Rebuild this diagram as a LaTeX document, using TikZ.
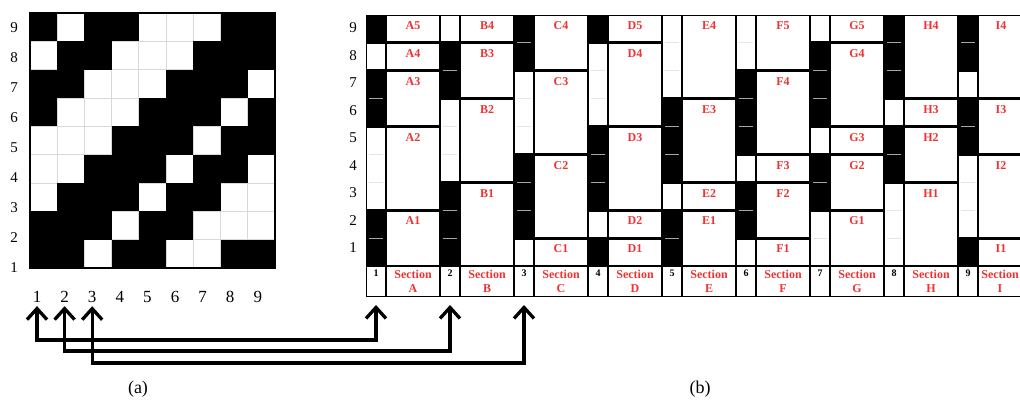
\documentclass[tikz,border=0pt]{standalone}
\usepackage{fontspec}
\setmainfont{Liberation Serif}
\usetikzlibrary{arrows.meta}
\definecolor{labred}{RGB}{240,50,50}
\tikzset{
  cellbox/.style={draw=black,line width=1.4pt},
  sep black/.style={draw=gray!70,line width=0.8pt},
  sep white/.style={draw=gray!20,line width=0.8pt},
  gridline/.style={draw=gray!30,line width=0.8pt},
  seclab/.style={text=labred,font=\bfseries\fontsize{12}{13.5}\selectfont,inner sep=1pt},
  numlab/.style={font=\bfseries\fontsize{10}{12}\selectfont,inner sep=1pt},
  rowlab/.style={font=\fontsize{15}{15}\selectfont},
  collab/.style={font=\fontsize{17}{17}\selectfont},
  caption/.style={font=\fontsize{18}{18}\selectfont},
  link/.style={line width=3.3pt,{Straight Barb[length=11pt,width=20pt]}-{Straight Barb[length=11pt,width=20pt]}},
}
\begin{document}
\begin{tikzpicture}[x=1pt,y=-1pt]
\clip (0,0) rectangle (1020,401);
\fill[white] (0,0) rectangle (1020,401);

% (a) the weave draft
\foreach \i in {1,...,8} {
  \draw[gridline] (30+27.22*\i,13) -- (30+27.22*\i,268);
  \draw[gridline] (30,13+28.33*\i) -- (275,13+28.33*\i);
}
\foreach \r/\pat in {9/{1,0,1,1,0,0,0,1,1}, 8/{0,1,1,0,0,0,1,1,1},
                     7/{1,1,0,0,0,1,1,1,0}, 6/{1,0,0,0,1,1,1,0,1},
                     5/{0,0,0,1,1,1,0,1,1}, 4/{0,0,1,1,1,0,1,1,0},
                     3/{0,1,1,1,0,1,1,0,0}, 2/{1,1,1,0,1,1,0,0,0},
                     1/{1,1,0,1,1,0,0,1,1}} {
  \foreach \v [count=\c] in \pat {
    \ifnum\v=1 \fill (30+27.22*\c-27.22,13+28.33*9-28.33*\r) rectangle ++(27.22,28.33); \fi
  }
}
\draw[line width=1.6pt] (30,13) rectangle (275,268);

\foreach \r in {1,...,9} {
  \node[rowlab] (rl\r) at (14,28+29.9*9-29.9*\r) {\r};
  \node[collab] (cl\r) at (37+27.6*\r-27.6,297) {\r};
}
\node[caption] (capa) at (138,389) {(a)};

% (b) threads and sections
\foreach \c/\t/\b/\f in {1/9/9/black, 1/8/8/white, 1/7/6/black, 1/5/3/white, 1/2/1/black,
                         2/9/9/white, 2/8/7/black, 2/6/4/white, 2/3/1/black,
                         3/9/8/black, 3/7/5/white, 3/4/2/black, 3/1/1/white,
                         4/9/9/black, 4/8/6/white, 4/5/3/black, 4/2/2/white, 4/1/1/black,
                         5/9/7/white, 5/6/4/black, 5/3/3/white, 5/2/1/black,
                         6/9/8/white, 6/7/5/black, 6/4/4/white, 6/3/2/black, 6/1/1/white,
                         7/9/9/white, 7/8/6/black, 7/5/5/white, 7/4/3/black, 7/2/1/white,
                         8/9/7/black, 8/6/6/white, 8/5/4/black, 8/3/1/white,
                         9/9/8/black, 9/7/7/white, 9/6/5/black, 9/4/2/white, 9/1/1/black} {
  \pgfmathsetmacro\xa{366+74*(\c-1)}
  \pgfmathsetmacro\ya{15+27.9*(9-\t)}
  \pgfmathsetmacro\yb{15+27.9*(10-\b)}
  \draw[cellbox,fill=\f] (\xa+0.7,\ya+0.7) rectangle (\xa+19.3,\yb-0.7);
  \ifnum\t>\b
    \foreach \r in {\b,...,\t} {
      \ifnum\r<\t \draw[sep \f] (\xa+3,15+27.9*9-27.9*\r) -- (\xa+17,15+27.9*9-27.9*\r); \fi
    }
  \fi
}
\foreach \c/\t/\b/\lab in {1/9/9/A5, 1/8/8/A4, 1/7/6/A3, 1/5/3/A2, 1/2/1/A1,
                           2/9/9/B4, 2/8/7/B3, 2/6/4/B2, 2/3/1/B1,
                           3/9/8/C4, 3/7/5/C3, 3/4/2/C2, 3/1/1/C1,
                           4/9/9/D5, 4/8/6/D4, 4/5/3/D3, 4/2/2/D2, 4/1/1/D1,
                           5/9/7/E4, 5/6/4/E3, 5/3/3/E2, 5/2/1/E1,
                           6/9/8/F5, 6/7/5/F4, 6/4/4/F3, 6/3/2/F2, 6/1/1/F1,
                           7/9/9/G5, 7/8/6/G4, 7/5/5/G3, 7/4/3/G2, 7/2/1/G1,
                           8/9/7/H4, 8/6/6/H3, 8/5/4/H2, 8/3/1/H1,
                           9/9/7/I4, 9/6/5/I3, 9/4/2/I2, 9/1/1/I1} {
  \pgfmathsetmacro\xa{366+74*(\c-1)}
  \pgfmathsetmacro\xs{min(\xa+47,1001)}
  \pgfmathsetmacro\ya{15+27.9*(9-\t)}
  \pgfmathsetmacro\yb{15+27.9*(10-\b)}
  \draw[cellbox] (\xa+20.7,\ya+0.7) rectangle (\xa+73.3,\yb-0.7);
  \node[seclab,anchor=north] (\lab) at (\xs,\ya+5.5) {\lab};
}
\foreach \c/\s in {1/A,2/B,3/C,4/D,5/E,6/F,7/G,8/H,9/I} {
  \pgfmathsetmacro\xa{366+74*(\c-1)}
  \pgfmathsetmacro\xs{min(\xa+47,1000)}
  \node[cellbox,minimum width=18.6pt,minimum height=29.6pt,inner sep=0pt] (num\c) at (\xa+10,281.5) {};
  \node[numlab,anchor=north] (nl\c) at ([yshift=-2.5pt]num\c.north) {\c};
  \draw[cellbox] (\xa+20.7,266.7) rectangle (\xa+73.3,296.3);
  \node[seclab,align=center] (sec\s) at (\xs,281.5) {Section\\\s};
}
\foreach \r in {1,...,9}
  \node[rowlab] (rr\r) at (353,28+27.5*9-27.5*\r) {\r};
\node[caption] (capb) at (700,389) {(b)};

% threads 1-3 carried over
\draw[link,shorten >=8pt] (cl1.south) -- (cl1.south |- 0,340) -| (num1.south);
\draw[link,shorten >=8pt] (cl2.south) -- (cl2.south |- 0,351) -| (num2.south);
\draw[link,shorten >=8pt] (cl3.south) -- (cl3.south |- 0,363) -| (num3.south);
\end{tikzpicture}
\end{document}
